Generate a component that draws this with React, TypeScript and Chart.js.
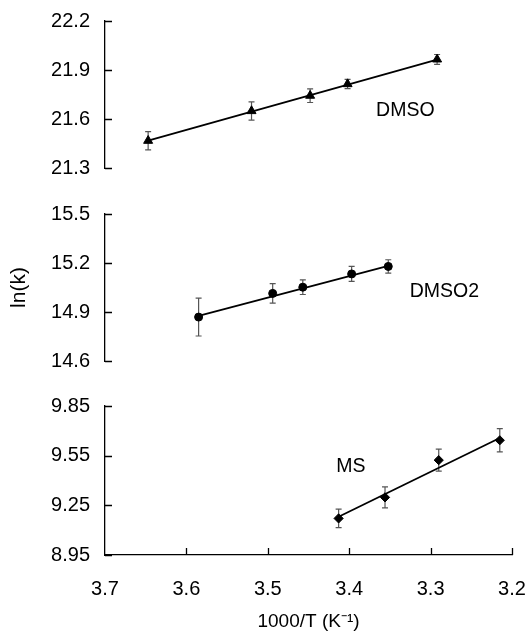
import React, { useEffect, useRef } from "react";
import { Chart, registerables } from "chart.js";

Chart.register(...registerables);

const FONT = '"Liberation Sans", Arial, Helvetica, sans-serif';

// shared x axis (1000/T)
const xTicks = [3.7, 3.6, 3.5, 3.4, 3.3, 3.2];
const xMin = 3.2;
const xMax = 3.7;

// DMSO panel
const dmsoX = [3.647, 3.52, 3.448, 3.402, 3.292];
const dmsoY = [21.467, 21.649, 21.743, 21.814, 21.965];
const dmsoErr = [0.056, 0.056, 0.042, 0.028, 0.03];
const dmsoFitX = [3.647, 3.292];
const dmsoFitY = [21.468, 21.964];
const dmsoTicks = [21.3, 21.6, 21.9, 22.2];
const dmsoTickLabels = ["21.3", "21.6", "21.9", "22.2"];
const dmsoLabelAt = [3.331, 21.652];

// DMSO2 panel
const dmso2X = [3.585, 3.494, 3.457, 3.397, 3.352];
const dmso2Y = [14.869, 15.014, 15.052, 15.133, 15.179];
const dmso2Err = [0.116, 0.06, 0.045, 0.046, 0.041];
const dmso2FitX = [3.585, 3.352];
const dmso2FitY = [14.877, 15.182];
const dmso2Ticks = [14.6, 14.9, 15.2, 15.5];
const dmso2TickLabels = ["14.6", "14.9", "15.2", "15.5"];
const dmso2LabelAt = [3.283, 15.027];

// MS panel
const msX = [3.413, 3.356, 3.29, 3.215];
const msY = [9.171, 9.298, 9.523, 9.643];
const msErr = [0.056, 0.063, 0.066, 0.07];
const msFitX = [3.413, 3.215];
const msFitY = [9.181, 9.657];
const msTicks = [8.95, 9.25, 9.55, 9.85];
const msTickLabels = ["8.95", "9.25", "9.55", "9.85"];
const msLabelAt = [3.398, 9.484];

type PanelSpec = {
  xs: number[];
  ys: number[];
  errs: number[];
  fitX: number[];
  fitY: number[];
  ticks: number[];
  tickLabels: string[];
  label: string;
  labelAt: number[];
  pointStyle: string;
  pointRadius: number;
  showX: boolean;
  yTitle?: string;
  height: number;
  padTop: number;
  padBottom: number;
};

function makeDeco(spec: PanelSpec) {
  return {
    id: "deco",
    beforeDatasetsDraw(chart: any) {
      const { ctx } = chart;
      const x = chart.scales.x;
      const y = chart.scales.y;
      ctx.save();
      ctx.strokeStyle = "#555";
      ctx.lineWidth = 1.2;
      ctx.beginPath();
      for (let i = 0; i < spec.xs.length; i++) {
        const px = x.getPixelForValue(spec.xs[i]);
        const top = y.getPixelForValue(spec.ys[i] + spec.errs[i]);
        const bot = y.getPixelForValue(spec.ys[i] - spec.errs[i]);
        ctx.moveTo(px, top);
        ctx.lineTo(px, bot);
        ctx.moveTo(px - 3, top);
        ctx.lineTo(px + 3, top);
        ctx.moveTo(px - 3, bot);
        ctx.lineTo(px + 3, bot);
      }
      ctx.stroke();
      ctx.restore();
    },
    afterDraw(chart: any) {
      const { ctx, chartArea } = chart;
      const x = chart.scales.x;
      const y = chart.scales.y;
      ctx.save();
      ctx.strokeStyle = "#000";
      ctx.lineWidth = 1.3;
      ctx.beginPath();
      y.ticks.forEach((t: any) => {
        const py = Math.round(y.getPixelForValue(t.value)) + 0.5;
        ctx.moveTo(chartArea.left, py);
        ctx.lineTo(chartArea.left + 7, py);
      });
      if (spec.showX) {
        x.ticks.forEach((t: any) => {
          if (Math.abs(t.value - xMax) < 1e-9) return;
          const px = Math.round(x.getPixelForValue(t.value)) + 0.5;
          ctx.moveTo(px, chartArea.bottom);
          ctx.lineTo(px, chartArea.bottom - 7);
        });
      }
      ctx.stroke();
      ctx.fillStyle = "#000";
      ctx.font = `19.5px ${FONT}`;
      ctx.textAlign = "center";
      ctx.textBaseline = "middle";
      ctx.fillText(
        spec.label,
        x.getPixelForValue(spec.labelAt[0]),
        y.getPixelForValue(spec.labelAt[1])
      );
      ctx.restore();
    },
  };
}

function buildConfig(spec: PanelSpec): any {
  return {
    type: "scatter",
    data: {
      datasets: [
        {
          label: "fit",
          data: spec.fitX.map((v, i) => ({ x: v, y: spec.fitY[i] })),
          showLine: true,
          borderColor: "#000",
          borderWidth: 1.8,
          pointRadius: 0,
          fill: false,
        },
        {
          label: spec.label,
          data: spec.xs.map((v, i) => ({ x: v, y: spec.ys[i] })),
          showLine: false,
          pointStyle: spec.pointStyle,
          pointRadius: spec.pointRadius,
          backgroundColor: "#000",
          borderColor: "#000",
          borderWidth: 1,
        },
      ],
    },
    options: {
      responsive: false,
      animation: false,
      devicePixelRatio: 1,
      events: [],
      layout: {
        padding: { top: spec.padTop, bottom: spec.padBottom, left: 0, right: 16 },
      },
      plugins: {
        legend: { display: false },
        tooltip: { enabled: false },
        title: { display: false },
      },
      scales: {
        x: {
          type: "linear",
          display: spec.showX,
          reverse: true,
          min: xMin,
          max: xMax,
          afterBuildTicks: (s: any) => {
            s.ticks = xTicks.map((v) => ({ value: v }));
          },
          afterFit: (s: any) => {
            if (spec.showX) s.height = 78;
          },
          grid: {
            display: true,
            drawOnChartArea: false,
            drawTicks: true,
            tickLength: 20,
            tickColor: "rgba(0,0,0,0)",
          },
          border: { display: true, color: "#000", width: 1.3 },
          ticks: {
            padding: 2,
            color: "#000",
            font: { family: FONT, size: 20 },
            callback: (v: any) => Number(v).toFixed(1),
          },
          title: {
            display: spec.showX,
            text: "1000/T (K\u207B\u00B9)",
            color: "#000",
            font: { family: FONT, size: 19 },
            padding: { top: 0, bottom: 0 },
          },
        },
        y: {
          type: "linear",
          min: spec.ticks[0],
          max: spec.ticks[spec.ticks.length - 1],
          afterBuildTicks: (s: any) => {
            s.ticks = spec.ticks.map((v) => ({ value: v }));
          },
          afterFit: (s: any) => {
            s.width = 105;
          },
          grid: {
            display: true,
            drawOnChartArea: false,
            drawTicks: true,
            tickLength: 13,
            tickColor: "rgba(0,0,0,0)",
          },
          border: { display: true, color: "#000", width: 1.3 },
          ticks: {
            padding: 2,
            color: "#000",
            font: { family: FONT, size: 20 },
            callback: (_v: any, i: number) => spec.tickLabels[i],
          },
          title: {
            display: !!spec.yTitle,
            text: spec.yTitle || "",
            color: "#000",
            font: { family: FONT, size: 21 },
            padding: { top: 7, bottom: 0 },
          },
        },
      },
    },
    plugins: [makeDeco(spec)],
  };
}

const panels: PanelSpec[] = [
  {
    xs: dmsoX, ys: dmsoY, errs: dmsoErr, fitX: dmsoFitX, fitY: dmsoFitY,
    ticks: dmsoTicks, tickLabels: dmsoTickLabels, label: "DMSO", labelAt: dmsoLabelAt,
    pointStyle: "triangle", pointRadius: 5.2, showX: false,
    height: 190, padTop: 21, padBottom: 22,
  },
  {
    xs: dmso2X, ys: dmso2Y, errs: dmso2Err, fitX: dmso2FitX, fitY: dmso2FitY,
    ticks: dmso2Ticks, tickLabels: dmso2TickLabels, label: "DMSO2", labelAt: dmso2LabelAt,
    pointStyle: "circle", pointRadius: 4, showX: false, yTitle: "ln(k)",
    height: 190, padTop: 24, padBottom: 19,
  },
  {
    xs: msX, ys: msY, errs: msErr, fitX: msFitX, fitY: msFitY,
    ticks: msTicks, tickLabels: msTickLabels, label: "MS", labelAt: msLabelAt,
    pointStyle: "rectRot", pointRadius: 4.6, showX: true,
    height: 253, padTop: 26, padBottom: 0,
  },
];

const tops = [0, 190, 380];

export default function App() {
  const r0 = useRef<HTMLCanvasElement>(null);
  const r1 = useRef<HTMLCanvasElement>(null);
  const r2 = useRef<HTMLCanvasElement>(null);
  const refs = [r0, r1, r2];

  useEffect(() => {
    Chart.defaults.font.family = FONT;
    Chart.defaults.color = "#000";
    const charts = panels.map((p, i) => new Chart(refs[i].current as HTMLCanvasElement, buildConfig(p)));
    return () => charts.forEach((c) => c.destroy());
  }, []);

  return (
    <div style={{ position: "absolute", left: 0, top: 0, width: 528, height: 633, background: "#fff" }}>
      {panels.map((p, i) => (
        <canvas
          key={i}
          ref={refs[i]}
          width={528}
          height={p.height}
          style={{ position: "absolute", left: 0, top: tops[i], width: 528, height: p.height, display: "block" }}
        />
      ))}
    </div>
  );
}
